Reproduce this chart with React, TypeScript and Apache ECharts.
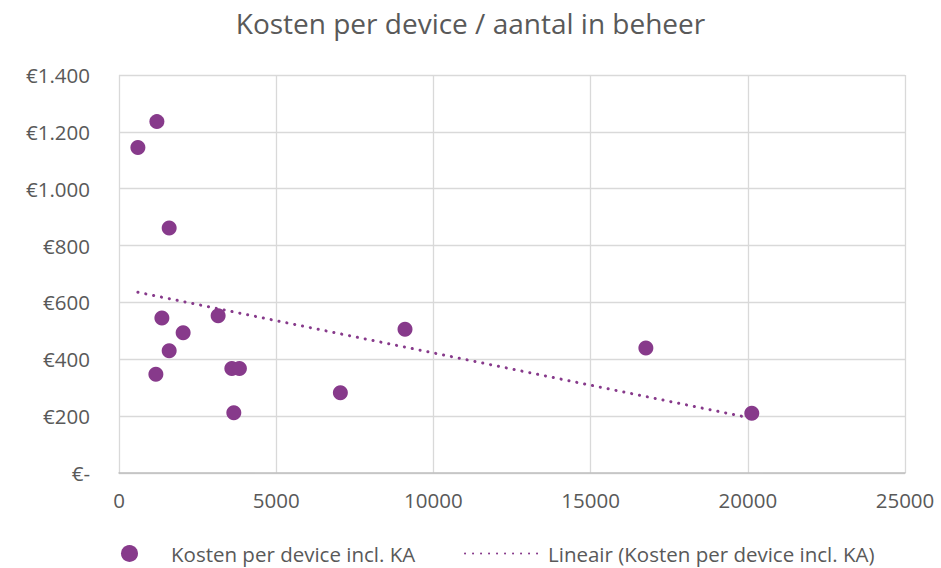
import React, { useEffect, useRef } from "react";
import * as echarts from "echarts";

const titleText = "Kosten per device / aantal in beheer";
const seriesName = "Kosten per device incl. KA";
const trendName = "Lineair (Kosten per device incl. KA)";
const devices = [601, 1205, 1596, 1364, 2040, 1596, 1173, 3153, 3589, 3830, 3652, 7041, 9097, 16758, 20127];
const costs = [1145, 1236, 862, 545, 493, 430, 347, 553, 368, 368, 212, 282, 506, 440, 210];
const xTicks = { min: 0, max: 25000, interval: 5000 };
const yTicks = { min: 0, max: 1400, interval: 200 };

const purple = "#873A8B";
const textColor = "#595959";
const fontFamily = "'Open Sans', 'Noto Sans', sans-serif";

function euro(v: number): string {
  if (v === 0) return "€-";
  return "€" + String(Math.round(v)).replace(/\B(?=(\d{3})+(?!\d))/g, ".");
}

function regression(xs: number[], ys: number[]) {
  const n = xs.length;
  const mx = xs.reduce((a, b) => a + b, 0) / n;
  const my = ys.reduce((a, b) => a + b, 0) / n;
  let sxy = 0;
  let sxx = 0;
  for (let i = 0; i < n; i++) {
    sxy += (xs[i] - mx) * (ys[i] - my);
    sxx += (xs[i] - mx) * (xs[i] - mx);
  }
  const slope = sxy / sxx;
  return { slope, intercept: my - slope * mx };
}

export default function App() {
  const ref = useRef<HTMLDivElement>(null);
  useEffect(() => {
    if (!ref.current) return;
    const chart = echarts.init(ref.current, undefined, { renderer: "svg" });
    const points = devices.map((d, i) => [d, costs[i]]);
    const { slope, intercept } = regression(devices, costs);
    const x0 = Math.min(...devices);
    const x1 = Math.max(...devices);
    const trend = [
      [x0, intercept + slope * x0],
      [x1, intercept + slope * x1],
    ];
    chart.setOption({
      animation: false,
      backgroundColor: "#ffffff",
      title: {
        text: titleText,
        left: "center",
        top: 4,
        textStyle: { fontFamily, fontSize: 28, fontWeight: "normal", color: textColor },
      },
      grid: { left: 119, right: 36, top: 75, bottom: 95, containLabel: false },
      legend: [
        {
          data: [{ name: seriesName, icon: "circle" }],
          left: 121,
          top: 543,
          padding: 0,
          itemWidth: 17,
          itemHeight: 17,
          textStyle: { fontFamily, fontSize: 20.5, color: textColor, padding: [0, 0, 0, 28] },
        },
        {
          data: [{ name: trendName }],
          left: 464,
          top: 543,
          padding: 0,
          itemWidth: 78,
          itemHeight: 17,
          itemStyle: { color: "transparent", borderWidth: 0, opacity: 0 },
          textStyle: { fontFamily, fontSize: 20.5, color: textColor, padding: [0, 0, 0, 0] },
        },
      ],
      xAxis: {
        type: "value",
        min: xTicks.min,
        max: xTicks.max,
        interval: xTicks.interval,
        axisLine: { show: true, lineStyle: { color: "#bfbfbf", width: 1.5 } },
        axisTick: { show: false },
        splitLine: { show: true, lineStyle: { color: "#d9d9d9", width: 1.3 } },
        axisLabel: { fontFamily, fontSize: 20.5, color: textColor, margin: 16, formatter: (v: number) => String(v) },
      },
      yAxis: {
        type: "value",
        min: yTicks.min,
        max: yTicks.max,
        interval: yTicks.interval,
        axisLine: { show: false },
        axisTick: { show: false },
        splitLine: { show: true, lineStyle: { color: "#d9d9d9", width: 1.3 } },
        axisLabel: { fontFamily, fontSize: 20.5, color: textColor, margin: 29, formatter: euro },
      },
      series: [
        {
          name: seriesName,
          type: "scatter",
          data: points,
          symbolSize: 15,
          itemStyle: { color: purple, opacity: 1 },
          z: 3,
        },
        {
          name: trendName,
          type: "line",
          data: trend,
          symbol: "none",
          showSymbol: false,
          lineStyle: { color: purple, width: 3, type: [0.1, 7.9], cap: "round" },
          itemStyle: { color: purple },
          z: 2,
        },
      ],
    });
    return () => chart.dispose();
  }, []);
  return (
    <div
      ref={ref}
      style={{ position: "absolute", left: 0, top: 0, width: 941, height: 568 }}
    />
  );
}
